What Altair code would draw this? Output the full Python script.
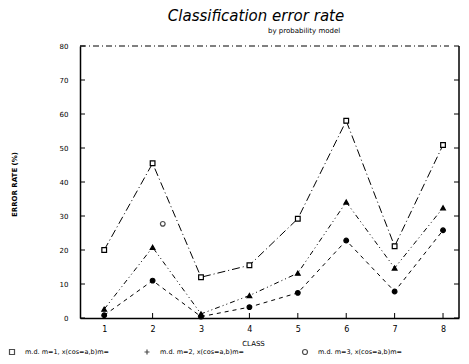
import altair as alt
import pandas as pd

classes = [1, 2, 3, 4, 5, 6, 7, 8]
s1 = [20.0, 45.5, 12.0, 15.5, 29.2, 58.0, 21.1, 50.9]
s2 = [2.6, 20.8, 1.2, 6.6, 13.2, 34.1, 14.7, 32.4]
s3 = [0.8, 11.0, 0.4, 3.2, 7.4, 22.8, 7.8, 25.8]
series_names = ["m.d. m=1, x(cos=a,b)m=", "m.d. m=2, x(cos=a,b)m=", "m.d. m=3, x(cos=a,b)m="]
legend_shapes = ["square", "M-1,0L1,0M0,-1L0,1", "circle"]
stray_x = [2.21]
stray_y = [27.7]
y_ticks = [0, 10, 20, 30, 40, 50, 60, 70, 80]
title_text = "Classification error rate"
subtitle_text = "by probability model"

rows = []
for name, vals in zip(series_names, [s1, s2, s3]):
    for c, v in zip(classes, vals):
        rows.append({"cls": c, "rate": v, "series": name, "dash": name, "fk": name})
df = pd.DataFrame(rows)

W, H = 379, 272
PAD_L, PAD_R, PAD_T, PAD_B = 72, 2, 38, 38
FONT = "DejaVu Sans"
X_MAX = 8.33
xs = alt.Scale(domain=[0.5, X_MAX], nice=False, zero=False)
ys = alt.Scale(domain=[0, 80], nice=False)

x_axis = alt.Axis(values=classes, title="CLASS", ticks=False, grid=False, domainColor="black",
                  domainWidth=1.5, labelFontSize=8, labelFont=FONT, labelColor="black",
                  labelPadding=7, titleFontSize=7, titleFont=FONT, titleFontWeight="normal",
                  titleColor="black", titleX=173, titleY=21, labelFlush=False, labelOverlap=False)
y_axis = alt.Axis(values=y_ticks, title="ERROR RATE (%)", ticks=False, grid=False, domainColor="black",
                  domainWidth=1.5, labelFontSize=7, labelFont=FONT, labelColor="black",
                  labelPadding=12, titleFontSize=7, titleFont=FONT, titleFontWeight="bold",
                  titleColor="black", titleX=-63, titleY=138, labelOverlap=False, labelFlush=False)


def X(field):
    return alt.X(field, scale=xs, axis=x_axis)


def Y(field):
    return alt.Y(field, scale=ys, axis=y_axis)


base = alt.Chart(df)
lines = base.mark_line(color="black", strokeWidth=1).encode(
    x=X("cls:Q"),
    y=Y("rate:Q"),
    strokeDash=alt.StrokeDash("dash:N", scale=alt.Scale(domain=series_names,
                              range=[[8, 3, 1, 3], [5, 3, 1, 3, 1, 3], [4, 4]]), legend=None),
    detail="series:N",
)

points = base.mark_point(color="black", opacity=1, strokeWidth=1.2, size=22).encode(
    x=X("cls:Q"),
    y=Y("rate:Q"),
    shape=alt.Shape("series:N", scale=alt.Scale(domain=series_names,
                    range=["square", "triangle-up", "circle"]), legend=None),
    fill=alt.Fill("fk:N", scale=alt.Scale(domain=series_names,
                  range=["white", "black", "black"]), legend=None),
)

stray = alt.Chart(pd.DataFrame({"x": stray_x, "y": stray_y})).mark_point(
    shape="circle", color="black", filled=False, size=22, strokeWidth=1.2).encode(
    x=X("x:Q"), y=Y("y:Q"))

tick_df = pd.DataFrame({"v": y_ticks})
left_ticks = alt.Chart(tick_df).mark_rule(color="black", strokeWidth=1).encode(
    y=Y("v:Q"), x=alt.value(0), x2=alt.value(5))
right_ticks = alt.Chart(tick_df).mark_rule(color="black", strokeWidth=1).encode(
    y=Y("v:Q"), x=alt.value(W - 5), x2=alt.value(W))
x_ticks = alt.Chart(pd.DataFrame({"c": classes})).mark_rule(color="black", strokeWidth=1).encode(
    x=X("c:Q"), y=alt.value(H), y2=alt.value(H - 5))

top_line = alt.Chart(pd.DataFrame({"y": [80]})).mark_rule(
    color="black", strokeWidth=1, strokeDash=[6, 3, 1, 3]).encode(
    y=Y("y:Q"), x=alt.value(0), x2=alt.value(W - 10))
right_line = alt.Chart(pd.DataFrame({"x": [X_MAX]})).mark_rule(color="black", strokeWidth=1.5).encode(
    x=X("x:Q"), y=alt.value(0), y2=alt.value(H))

title = alt.Chart(pd.DataFrame({"t": [title_text]})).mark_text(
    fontSize=15, font=FONT, fontStyle="italic", align="center", baseline="middle", color="black").encode(
    text="t:N", x=alt.value(176), y=alt.value(-30))
subtitle = alt.Chart(pd.DataFrame({"t": [subtitle_text]})).mark_text(
    fontSize=7, font=FONT, align="left", baseline="middle", color="black").encode(
    text="t:N", x=alt.value(188), y=alt.value(-15))

# manual legend row below the x-axis title
legend_layers = []
legend_px = [-68, 67, 225]
for name, shp, px in zip(series_names, legend_shapes, legend_px):
    ldf = pd.DataFrame({"t": [name]})
    legend_layers.append(alt.Chart(ldf).mark_point(
        shape=shp, color="black", filled=False, size=25, strokeWidth=1.2).encode(
        x=alt.value(px), y=alt.value(H + 34)))
    legend_layers.append(alt.Chart(ldf).mark_text(
        fontSize=6.5, font=FONT, align="left", baseline="middle", color="black").encode(
        text="t:N", x=alt.value(px + 13), y=alt.value(H + 34)))

chart = alt.layer(lines, points, stray, left_ticks, right_ticks, x_ticks, top_line, right_line,
                  title, subtitle, *legend_layers).properties(
    width=W, height=H,
    autosize=alt.AutoSizeParams(type="none"),
    padding={"left": PAD_L, "top": PAD_T, "right": PAD_R, "bottom": PAD_B},
).configure(background="white").configure_view(stroke=None)

chart.save("out.html", embed_options={"renderer": "svg", "actions": False})
